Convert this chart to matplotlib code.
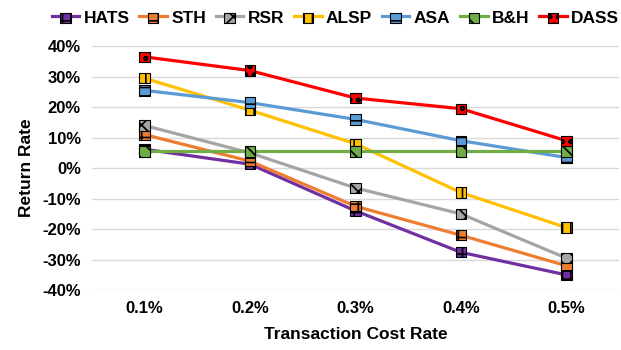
import numpy as np
import matplotlib.pyplot as plt
from matplotlib.legend_handler import HandlerTuple

plt.rcParams['font.family'] = ['Liberation Sans', 'DejaVu Sans']
plt.rcParams['font.weight'] = 'bold'
plt.rcParams['axes.labelweight'] = 'bold'
plt.rcParams['hatch.linewidth'] = 1.2

costs = ["0.1%", "0.2%", "0.3%", "0.4%", "0.5%"]
hats = [6.2, 1.3, -14.0, -27.6, -35.0]
sth = [11.0, 2.3, -12.5, -22.0, -32.0]
rsr = [14.0, 5.0, -6.5, -15.0, -29.5]
alsp = [29.5, 19.0, 8.0, -8.0, -19.5]
asa = [25.5, 21.5, 16.0, 9.0, 3.5]
bh = [5.5, 5.5, 5.5, 5.5, 5.5]
dass = [36.5, 32.0, 23.0, 19.5, 9.0]

names = ["HATS", "STH", "RSR", "ALSP", "ASA", "B&H", "DASS"]
series = [hats, sth, rsr, alsp, asa, bh, dass]
colors = ["#7030A0", "#ED7D31", "#A5A5A5", "#FFC000", "#5B9BD5", "#70AD47", "#FF0000"]
hatches = ["++", "-+", "xx", "||", "--", "\\\\", "oo"]

fig = plt.figure(figsize=(6.21, 3.5), dpi=100)
ax = fig.add_axes([0.148, 0.171, 0.849, 0.697])

x = np.arange(len(costs))
handles = []
for name, vals, c, h in zip(names, series, colors, hatches):
    ln, = ax.plot(x, vals, color=c, lw=2.3, zorder=2)
    sc = ax.scatter(x, vals, marker='s', s=55, facecolor=c, edgecolor='black',
                    hatch=h, linewidth=0.8, zorder=3)
    handles.append((ln, sc))

ax.set_xlim(-0.5, 4.5)
ax.set_ylim(-40, 40)
ax.set_yticks(np.arange(-40, 41, 10))
ax.set_yticklabels([f"{v}%" for v in range(-40, 41, 10)], fontsize=12)
ax.set_xticks(x)
ax.set_xticklabels(costs, fontsize=12)
ax.grid(axis='y', color='#D9D9D9', lw=1)
ax.set_axisbelow(True)
for s in ax.spines.values():
    s.set_visible(False)
ax.tick_params(length=0, pad=8)
ax.set_xlabel("Transaction Cost Rate", fontsize=12.5, labelpad=8)
ax.set_ylabel("Return Rate", fontsize=12.5, labelpad=6)

fig.legend(handles, names, loc='upper center', bbox_to_anchor=(0.54, 1.015), ncol=7,
           frameon=False, fontsize=12.5, scatterpoints=1,
           handler_map={tuple: HandlerTuple(ndivide=1, pad=0)},
           handlelength=1.6, handletextpad=0.25, columnspacing=0.55)

fig.savefig("out.png", dpi=100)
